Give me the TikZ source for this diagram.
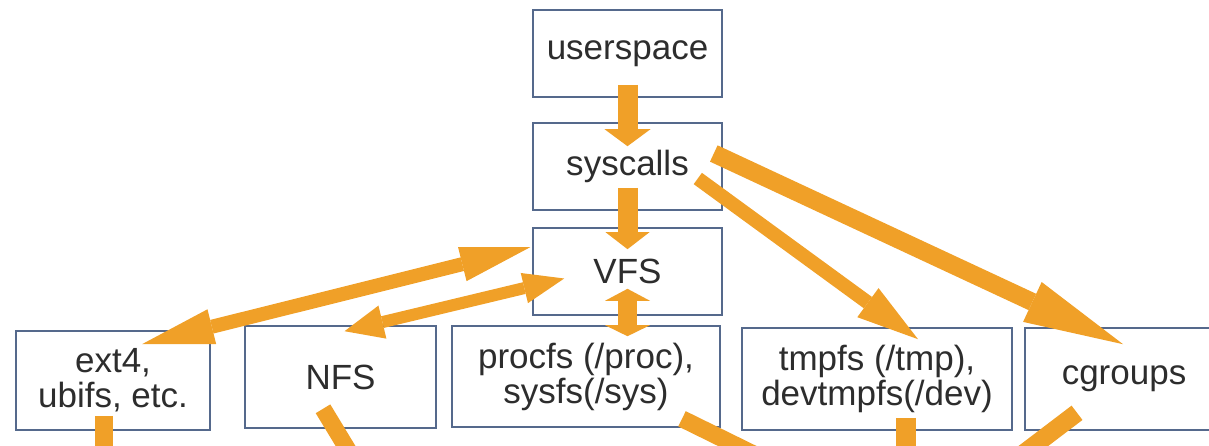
\documentclass[tikz,border=0pt]{standalone}
\usepackage{fontspec}
\setmainfont{Liberation Sans}
\usetikzlibrary{arrows.meta,calc}
\definecolor{arrorange}{RGB}{240,160,40}
\definecolor{boxline}{RGB}{85,105,140}
\definecolor{boxtext}{RGB}{45,45,45}
\begin{document}
\begin{tikzpicture}[x=1pt,y=-1pt,
  fsbox/.style={draw=boxline,line width=1.6pt,fill=white,inner sep=0pt,align=center,
                text=boxtext,font=\fontsize{35}{35}\selectfont},
  fat/.style={draw=arrorange,line width=#1}]
\useasboundingbox (0,0) rectangle (1209,446);
\clip (0,0) rectangle (1209,446);

\node[fsbox,minimum width=189,minimum height=87] (us)  at (627.5,53.5)  {userspace};
\node[fsbox,minimum width=189,minimum height=87] (sc)  at (627.5,166.5) {syscalls};
\node[fsbox,minimum width=189,minimum height=87] (vfs) at (627.5,271.5) {VFS};
\node[fsbox,minimum width=194,minimum height=99] (ext) at (113,380.5)   {ext4,\\ubifs, etc.};
\node[fsbox,minimum width=191,minimum height=102] (nfs) at (340.5,377) {NFS};
\node[fsbox,minimum width=268,minimum height=101] (pro) at (586,376.5)   {procfs (/proc),\\sysfs(/sys)};
\node[fsbox,minimum width=270,minimum height=102] (tmp) at (877,379) {tmpfs (/tmp),\\devtmpfs(/dev)};
\node[fsbox,minimum width=198,minimum height=102] (cg)  at (1124,379) {cgroups};

% vertical chain
\draw[fat=20pt,-{Triangle[length=17pt,width=46pt,line width=0pt]}]
  ($(us.south)+(0,-13)$) -- ($(sc.north)+(0,24)$);
\draw[fat=20pt,-{Triangle[length=17pt,width=44pt,line width=0pt]}]
  ($(sc.south)+(0,-23)$) -- ($(vfs.north)+(0,22)$);
\draw[fat=19pt,{Triangle[length=12pt,width=45pt,line width=0pt]}-{Triangle[length=11pt,width=45pt,line width=0pt]}]
  ($(vfs.south)+(0,-27)$) -- ($(vfs.south |- pro.north)+(0,11)$);

% VFS <-> ext4 and NFS
\draw[fat=14pt,{Triangle[length=72pt,width=36pt,line width=0pt]}-{Triangle[length=70pt,width=35pt,line width=0pt]}]
  ($(ext.north)+(29,14)$) -- ($(vfs.north west)+(-2,20)$);
\draw[fat=12pt,{Triangle[length=39pt,width=34pt,line width=0pt]}-{Triangle[length=41pt,width=31pt,line width=0pt]}]
  ($(nfs.north)+(4,6)$) -- ($(vfs.west)+(32,7)$);

% syscalls -> tmpfs, cgroups
\draw[fat=14pt,-{Triangle[length=62pt,width=36pt,line width=0pt]}]
  ($(sc.east)+(-25,12)$) -- ($(tmp.north)+(41,12)$);
\draw[fat=18pt,-{Triangle[length=100pt,width=44pt,line width=0pt]}]
  ($(sc.east)+(-9,-13)$) -- ($(cg.north)+(-1,17)$);

% outgoing arrows at the bottom (cut by the frame)
\coordinate (extout) at (104,480);
\coordinate (nfsout) at (371,488);
\coordinate (proout) at (782,468);
\coordinate (tmpout) at (906,480);
\coordinate (cgout)  at (986,482);
\draw[fat=18pt] ($(ext.south)+(-9,-15)$) -- (extout);
\draw[fat=17pt] ($(nfs.south)+(-17.5,-20)$) -- (nfsout);
\draw[fat=17pt] ($(pro.south)+(96,-9)$) -- (proout);
\draw[fat=20pt] ($(tmp.south)+(29,-13)$) -- (tmpout);
\draw[fat=18pt] ($(cg.south)+(-47,-18)$) -- (cgout);
\end{tikzpicture}
\end{document}
